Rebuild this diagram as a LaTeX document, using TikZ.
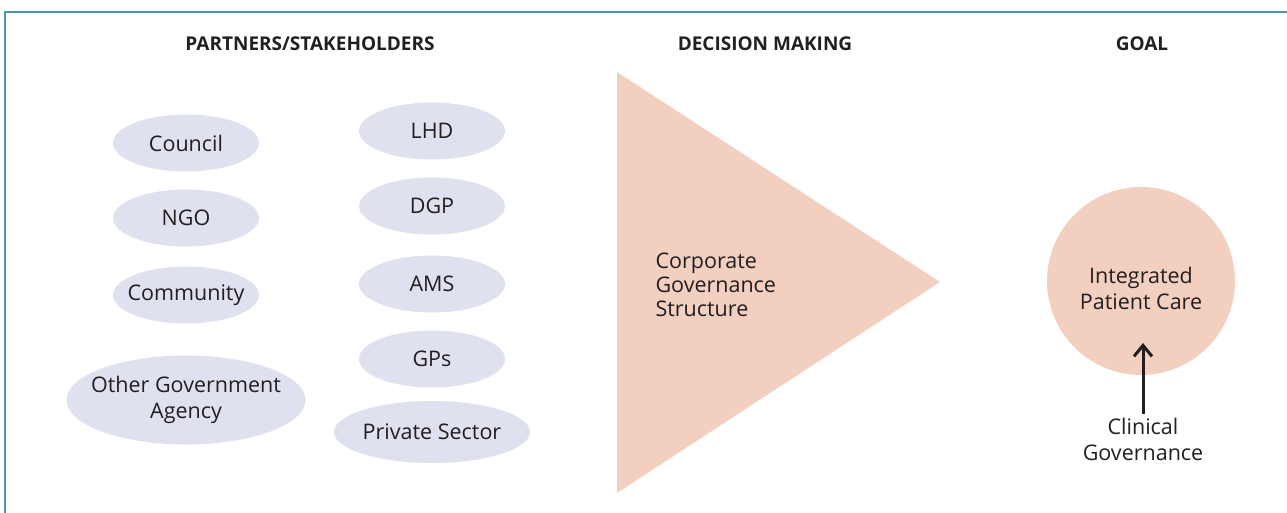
\documentclass[tikz,border=0pt]{standalone}
\usepackage{fontspec}
\setmainfont{Open Sans}
\usetikzlibrary{shapes.geometric,arrows.meta}

\definecolor{partnerfill}{HTML}{E0E1EF}
\definecolor{decisionfill}{HTML}{F3CFC0}
\definecolor{framecol}{HTML}{4F93BC}
\definecolor{inkcol}{HTML}{231F20}

\tikzset{
  heading/.style={font=\fontsize{19}{23}\selectfont\bfseries, text=inkcol},
  caption/.style={font=\fontsize{21.5}{26}\selectfont, text=inkcol, align=center},
  partner/.style={caption, ellipse, fill=partnerfill, inner ysep=0pt, inner xsep=-12pt,
    minimum width=146pt, minimum height=57pt},
}

\begin{document}
\begin{tikzpicture}[x=1pt,y=-1pt]
    \useasboundingbox (0,0) rectangle (1287,513);
    \draw[framecol, line width=2pt] (5,513) -- (5,12) -- (1287,12);

    % column headings
    \node[heading] (hpartners) at (310,44) {PARTNERS/STAKEHOLDERS};
    \node[heading] (hdecision) at (765,44) {DECISION MAKING};
    \node[heading] (hgoal) at (1142,44) {GOAL};

    % stakeholders, left column
    \node[partner] (council) at (186,143) {Council};
    \node[partner] (ngo) at (186,218) {NGO};
    \node[partner] (community) at (186,295) {Community};
    \node[partner, inner xsep=-20pt, minimum width=239pt, minimum height=89pt] (othergov) at (186,400) {Other Government\\Agency};

    % stakeholders, right column
    \node[partner] (lhd) at (432,131) {LHD};
    \node[partner] (dgp) at (432,206) {DGP};
    \node[partner] (ams) at (432,284) {AMS};
    \node[partner] (gps) at (432,359) {GPs};
    \node[partner, minimum width=196pt, minimum height=62pt] (private) at (432,432) {Private Sector};

    % decision making
    \fill[decisionfill] (617,72) -- (940,282) -- (617,493) -- cycle;
    \node[caption, font=\fontsize{21.5}{24}\selectfont, align=left, anchor=west] (corporate) at (652,285) {Corporate\\Governance\\Structure};

    % goal
    \node[circle, fill=decisionfill, minimum size=188pt] (goal) at (1141,281) {};
    \node[caption] (care) at (1141,288) {Integrated\\Patient Care};
    \node[caption] (clinical) at (1143,439) {Clinical\\Governance};
    \coordinate (cgtip) at (1143,343);
    \draw[inkcol, line width=3pt, -{Straight Barb[length=11pt,width=18pt]}] (clinical.north) -- (cgtip);
\end{tikzpicture}
\end{document}
